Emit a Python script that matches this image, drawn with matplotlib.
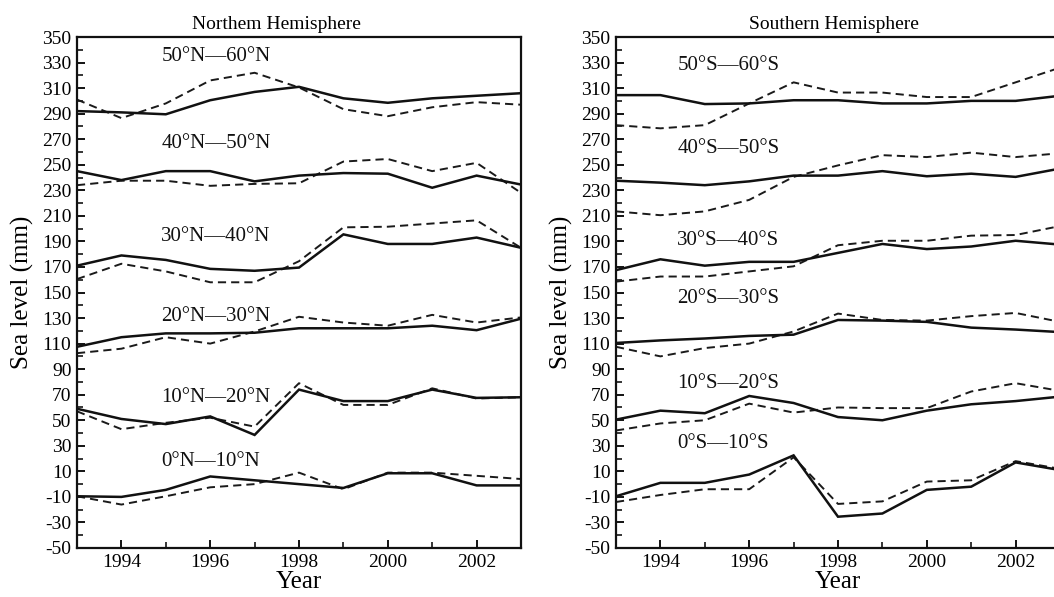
import matplotlib
matplotlib.use("Agg")
import matplotlib.pyplot as plt
from matplotlib.ticker import MultipleLocator, FixedLocator

plt.rcParams['font.family'] = ['Liberation Serif', 'DejaVu Serif']

years = list(range(1993, 2004))

# Northern Hemisphere (solid, dashed) per band
n_labels = ["50°N—60°N", "40°N—50°N", "30°N—40°N", "20°N—30°N", "10°N—20°N", "0°N—10°N"]
n_solid = [
    [292, 291, 289.5, 300.5, 307, 311, 302, 298.5, 302, 304, 306],
    [245, 238, 245, 245, 237, 241.5, 243.5, 243, 232, 241.5, 234.5],
    [171, 179, 175.5, 168.5, 167, 169.5, 195.5, 188, 188, 193, 185],
    [107.5, 115, 118, 118, 118.5, 122, 122, 122, 124, 120.5, 129.5],
    [59, 51, 47, 53, 38.5, 74, 65, 65, 74, 67.5, 68],
    [-9.5, -10, -4.5, 6, 3, 0, -3, 8.5, 8.5, -1, -1],
]
n_dashed = [
    [301, 286.5, 298, 316, 322, 310.5, 293.5, 288, 295, 299, 297],
    [234, 237.5, 237.5, 233.5, 235, 235.5, 252.5, 254.5, 245, 251.5, 228],
    [160.5, 172.5, 166.5, 158, 158, 174.5, 201, 201.5, 204, 206.5, 185],
    [102.5, 106, 115, 110, 119.5, 131, 126.5, 124, 132.5, 126.5, 130.5],
    [57, 43, 48, 52, 45, 79, 62, 62, 75, 67, 68],
    [-9.5, -16, -9.5, -2.5, 0, 9, -4, 9, 9, 6.5, 4],
]
n_label_y = [334.5, 267, 193.5, 131, 67.5, 17.5]

# Southern Hemisphere
s_labels = ["50°S—60°S", "40°S—50°S", "30°S—40°S", "20°S—30°S", "10°S—20°S", "0°S—10°S"]
s_solid = [
    [304.5, 304.5, 297.5, 298, 300.5, 300.5, 298, 298, 300, 300, 304],
    [237.5, 236, 234, 237, 241.5, 241.5, 245, 241, 243, 240.5, 247],
    [167.5, 176, 171, 174, 174, 181, 188, 184, 186, 190.5, 187.5],
    [110.5, 112.5, 114, 116, 117, 128.5, 128, 127, 122.5, 121, 119],
    [50.5, 57.5, 55.5, 69, 63.5, 52.5, 50, 57.5, 62.5, 65, 68.5],
    [-9.5, 1, 1, 7.5, 22.5, -25.5, -23, -4.5, -2, 17, 11],
]
s_dashed = [
    [281, 278.5, 281, 298, 314.5, 306.5, 306.5, 303, 303, 314.5, 326],
    [213.5, 210.5, 213.5, 222.5, 240.5, 249.5, 257.5, 256, 259.5, 256, 259],
    [158.5, 162.5, 162.5, 166.5, 170.5, 187, 190.5, 190.5, 194.5, 195, 202],
    [107.5, 100, 106.5, 110, 119.5, 133.5, 128.5, 128, 131.5, 134, 127],
    [42, 47.5, 50, 63, 56, 60, 59.5, 59.5, 72.5, 79, 73],
    [-14, -8.5, -4, -4, 21, -15.5, -13.5, 2, 3, 18, 12],
]
s_label_y = [328, 263, 191, 145.5, 79, 32]

titles = ["Northem Hemisphere", "Southern Hemisphere"]
ytick_vals = list(range(-50, 351, 20))
xtick_vals = [1994, 1996, 1998, 2000, 2002]

fig = plt.figure(figsize=(10.54, 5.97), dpi=100)
W, H = 1054, 597
axL = fig.add_axes([77 / W, 49 / H, 444 / W, 511 / H])
axR = fig.add_axes([616 / W, 49 / H, 444 / W, 511 / H])

dash = (0, (4.2, 2.6))
panels = [
    (axL, n_solid, n_dashed, n_labels, n_label_y, 1994.9, titles[0], 0.45),
    (axR, s_solid, s_dashed, s_labels, s_label_y, 1994.38, titles[1], 0.49),
]
for ax, sol, dsh, labs, laby, labx, ttl, tx in panels:
    for s, d in zip(sol, dsh):
        ax.plot(years, d, color='#1a1a1a', lw=1.4, linestyle=dash)
        ax.plot(years, s, color='#111111', lw=1.8, solid_joinstyle='miter')
    for lab, ly in zip(labs, laby):
        ax.text(labx, ly, lab, fontsize=15, va='center', ha='left', color='#111111')
    ax.set_xlim(1993, 2003)
    ax.set_ylim(-50, 350)
    ax.yaxis.set_major_locator(FixedLocator(ytick_vals))
    ax.yaxis.set_minor_locator(MultipleLocator(10))
    ax.xaxis.set_major_locator(FixedLocator(xtick_vals))
    ax.xaxis.set_minor_locator(MultipleLocator(1))
    ax.tick_params(which='major', direction='in', length=6, width=1.3, labelsize=14, pad=4)
    ax.tick_params(which='minor', direction='in', length=4, width=1.1)
    ax.tick_params(axis='x', which='both', top=False)
    ax.tick_params(axis='y', which='both', right=False)
    for sp in ax.spines.values():
        sp.set_linewidth(1.6)
        sp.set_color('#111111')
    ax.set_yticklabels([str(v).replace('\u2212', '-') for v in ytick_vals])
    ax.set_title(ttl, fontsize=14, x=tx, pad=6)
    ax.set_xlabel("Year", fontsize=18, labelpad=0)
    ax.set_ylabel("Sea level (mm)", fontsize=18, labelpad=6)

fig.savefig("out.png", dpi=100)
